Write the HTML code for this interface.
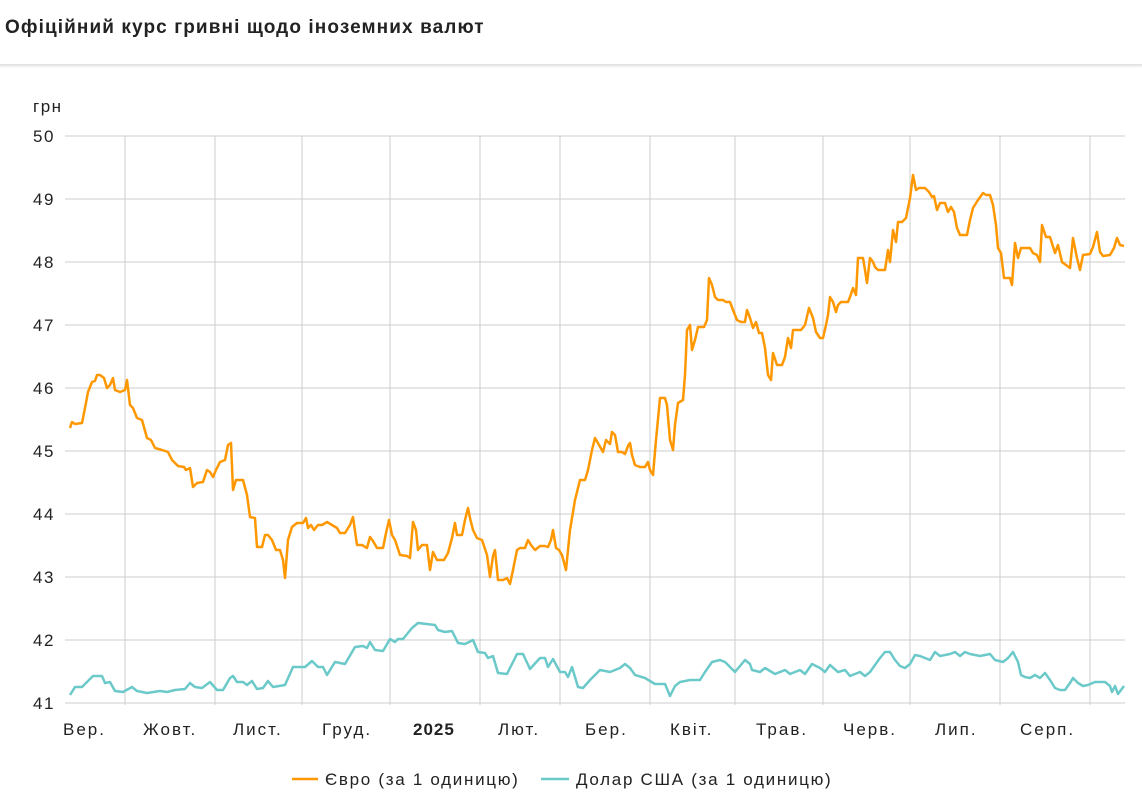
<!DOCTYPE html>
<html><head><meta charset="utf-8"><style>
body{margin:0;background:#fff;width:1142px;height:802px;overflow:hidden;font-family:"Liberation Sans",Arial,sans-serif}
.t{position:absolute;left:5px;top:17px;font-size:19px;font-weight:bold;color:#222;letter-spacing:1.1px}
.bar{position:absolute;left:0;top:64px;width:1142px;height:4px;background:linear-gradient(#ddd,#fff)}
</style></head><body>
<div class="t">Офіційний курс гривні щодо іноземних валют</div>
<div class="bar"></div>
<svg width="1142" height="802" style="position:absolute;left:0;top:0" font-family="Liberation Sans, Arial, sans-serif">
<g stroke="#ddd" stroke-width="1.5">
<line x1="65" x2="1125" y1="136" y2="136"/><line x1="65" x2="1125" y1="199" y2="199"/><line x1="65" x2="1125" y1="262" y2="262"/><line x1="65" x2="1125" y1="325" y2="325"/><line x1="65" x2="1125" y1="388" y2="388"/><line x1="65" x2="1125" y1="451" y2="451"/><line x1="65" x2="1125" y1="514" y2="514"/><line x1="65" x2="1125" y1="577" y2="577"/><line x1="65" x2="1125" y1="640" y2="640"/><line x1="65" x2="1125" y1="703" y2="703"/>
</g>
<g stroke="#ccc" stroke-width="1">
<line x1="125" x2="125" y1="136" y2="705"/><line x1="215" x2="215" y1="136" y2="705"/><line x1="302" x2="302" y1="136" y2="705"/><line x1="390" x2="390" y1="136" y2="705"/><line x1="480" x2="480" y1="136" y2="705"/><line x1="560" x2="560" y1="136" y2="705"/><line x1="650" x2="650" y1="136" y2="705"/><line x1="735" x2="735" y1="136" y2="705"/><line x1="823" x2="823" y1="136" y2="705"/><line x1="910" x2="910" y1="136" y2="705"/><line x1="1000" x2="1000" y1="136" y2="705"/><line x1="1090" x2="1090" y1="136" y2="705"/>
</g>
<g font-size="17" fill="#222" letter-spacing="1.5">
<text x="33" y="112">грн</text>
<text x="33" y="142">50</text><text x="33" y="205">49</text><text x="33" y="268">48</text><text x="33" y="331">47</text><text x="33" y="394">46</text><text x="33" y="457">45</text><text x="33" y="520">44</text><text x="33" y="583">43</text><text x="33" y="646">42</text><text x="33" y="709">41</text>
</g>
<g font-size="17" fill="#222" letter-spacing="2">
<text x="63" y="735">Вер.</text><text x="143" y="735">Жовт.</text><text x="233" y="735">Лист.</text><text x="322" y="735">Груд.</text><text x="413" y="735" font-weight="bold" letter-spacing="1">2025</text><text x="498" y="735">Лют.</text><text x="585" y="735">Бер.</text><text x="670" y="735">Квіт.</text><text x="756" y="735">Трав.</text><text x="843" y="735">Черв.</text><text x="935" y="735">Лип.</text><text x="1020" y="735">Серп.</text>
</g>
<g font-size="17" fill="#222" letter-spacing="1.7">
<text x="325" y="785">Євро (за 1 одиницю)</text><text x="576" y="785">Долар США (за 1 одиницю)</text>
</g>
<line x1="292" x2="318" y1="779" y2="779" stroke="#ff9800" stroke-width="2.5"/>
<line x1="541" x2="569" y1="779" y2="779" stroke="#6cc9c9" stroke-width="2.5"/>
<polyline fill="none" stroke="#ff9800" stroke-width="2.5" stroke-linejoin="round" points="70,428 72,422 75,424 82,423 85,408 88,392 92,382 95,381 97,375 100,375 104,378 107,388 110,385 113,378 115,390 120,392 125,390 127,380 130,405 133,408 137,418 142,420 147,438 151,440 155,448 162,450 168,452 172,460 178,466 184,467 186,470 190,468 193,487 197,483 203,482 207,470 210,472 213,477 216,470 220,462 225,460 228,445 231,443 233,490 236,480 243,480 247,495 250,517 255,518 257,547 262,547 265,535 268,535 272,540 276,550 280,550 283,560 285,578 288,540 292,527 297,523 303,523 306,518 308,528 311,525 314,530 318,525 322,525 327,522 332,525 337,528 340,533 345,533 350,525 353,517 357,545 362,545 367,548 370,537 373,541 377,548 383,548 386,533 389,520 392,535 395,540 400,555 407,556 410,558 413,522 416,530 418,550 422,545 427,545 430,570 433,552 437,560 444,560 448,553 452,538 455,523 457,535 462,535 465,520 468,508 470,518 473,530 477,538 482,540 487,555 490,577 493,556 495,550 498,580 503,580 507,578 510,584 513,570 517,550 520,548 525,548 528,540 531,545 535,550 540,546 545,546 548,547 551,540 553,530 556,548 559,550 562,555 566,570 570,530 575,500 580,480 585,480 588,470 592,450 595,438 599,445 603,452 606,440 610,444 612,432 615,435 618,452 622,452 625,454 628,446 630,443 632,455 635,465 640,467 645,467 648,462 650,470 653,475 656,440 660,398 665,398 667,405 670,440 673,450 675,425 678,403 683,400 685,375 687,330 690,325 692,350 695,340 698,327 704,327 707,320 709,278 712,285 715,297 718,300 723,300 726,302 730,302 733,310 737,320 741,322 745,322 747,310 750,318 753,328 756,322 759,333 762,333 765,348 768,375 771,380 773,353 777,365 782,365 785,357 788,338 791,348 793,330 797,330 801,330 805,325 809,308 813,318 816,332 820,338 823,338 826,325 828,315 830,297 833,302 836,312 838,305 841,302 844,302 848,302 850,297 853,288 856,295 858,258 863,258 865,270 867,283 870,258 873,262 875,267 878,270 885,270 888,250 890,262 893,230 896,242 898,222 902,222 906,218 910,198 913,175 916,190 919,188 925,188 929,192 932,197 934,196 937,210 940,203 945,203 948,212 951,207 954,212 957,228 960,235 967,235 970,220 973,208 978,200 983,193 986,195 990,195 993,205 996,225 998,248 1001,253 1004,278 1010,278 1012,285 1015,243 1018,258 1021,248 1030,248 1033,253 1037,255 1040,262 1042,225 1046,237 1050,237 1055,253 1058,245 1062,262 1066,265 1070,268 1073,238 1077,258 1080,270 1083,255 1090,254 1093,247 1097,232 1100,252 1103,256 1110,255 1114,248 1117,238 1120,245 1124,246"/>
<polyline fill="none" stroke="#6cc9c9" stroke-width="2.5" stroke-linejoin="round" points="70,695 75,687 82,687 93,676 102,676 105,683 110,682 115,691 123,692 132,687 137,691 147,693 160,691 167,692 175,690 185,689 190,683 195,687 202,688 210,682 217,690 223,690 230,678 233,676 237,682 243,682 247,685 252,681 257,689 263,688 268,681 273,687 285,685 293,667 305,667 312,661 318,667 323,667 327,675 335,662 345,664 355,647 363,646 367,648 370,642 375,650 383,651 390,639 395,642 398,639 403,639 412,628 418,623 435,625 438,630 445,632 452,631 458,643 465,644 473,640 478,652 485,653 488,658 493,656 498,673 507,674 513,662 517,654 523,654 530,669 540,658 545,658 548,667 553,659 560,672 565,672 568,677 572,667 575,677 578,687 583,688 590,680 600,670 610,672 620,668 625,664 630,668 635,675 645,678 655,684 665,684 670,696 675,686 680,682 690,680 700,680 705,672 712,662 720,660 725,662 735,672 740,666 745,660 750,664 752,670 760,672 765,668 775,674 785,670 790,674 800,670 805,674 812,664 820,668 825,672 830,665 838,672 845,670 850,676 855,674 860,672 865,676 870,672 875,665 880,658 885,652 890,652 895,660 900,666 905,668 910,664 915,655 920,656 925,658 930,660 935,652 940,656 945,655 950,654 955,652 960,656 965,652 970,654 980,656 990,654 995,660 1003,662 1008,658 1013,652 1018,662 1021,675 1025,677 1030,678 1035,675 1040,678 1045,673 1050,680 1055,688 1060,690 1065,690 1070,683 1073,678 1078,683 1083,686 1088,685 1095,682 1100,682 1105,682 1110,686 1112,692 1115,686 1118,694 1121,690 1124,686"/>
</svg>
</body></html>
